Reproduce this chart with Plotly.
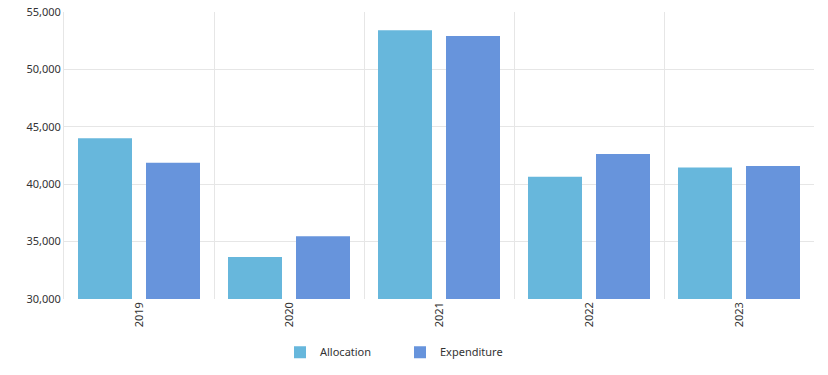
import plotly.graph_objects as go

years = ["2019", "2020", "2021", "2022", "2023"]
allocation = [44000, 33650, 53400, 40650, 41450]
expenditure = [41870, 35460, 52900, 42630, 41590]

fig = go.Figure()
fig.add_trace(go.Bar(x=years, y=allocation, name="Allocation", marker=dict(color="#67b7dc", line=dict(width=0))))
fig.add_trace(go.Bar(x=years, y=expenditure, name="Expenditure", marker=dict(color="#6794dc", line=dict(width=0))))

fig.update_layout(
    width=828, height=375,
    margin=dict(l=64, r=14, t=12, b=76, autoexpand=False),
    paper_bgcolor="white", plot_bgcolor="white",
    barmode="group", bargap=0.0933, bargroupgap=0.206,
    font=dict(family="Noto Sans, sans-serif", size=11, color="#333333"),
    showlegend=True,
    legend=dict(orientation="h", x=0.448, xanchor="center", yref="container", y=0.061, yanchor="middle",
                font=dict(size=11, color="#333333"), itemwidth=30, entrywidth=75, tracegroupgap=0),
    xaxis=dict(type="category", tickson="boundaries", showgrid=True, gridcolor="#e6e6e6",
               tickangle=-90, ticks="", showline=False, zeroline=False),
    yaxis=dict(range=[30000, 55000], dtick=5000, tickformat=",", showgrid=True, gridcolor="#e6e6e6",
               ticks="", showline=True, linecolor="#e6e6e6", zeroline=False),
)
fig.write_html("out.html", config={"displayModeBar": False},
               post_script="document.body.style.margin='0';")
